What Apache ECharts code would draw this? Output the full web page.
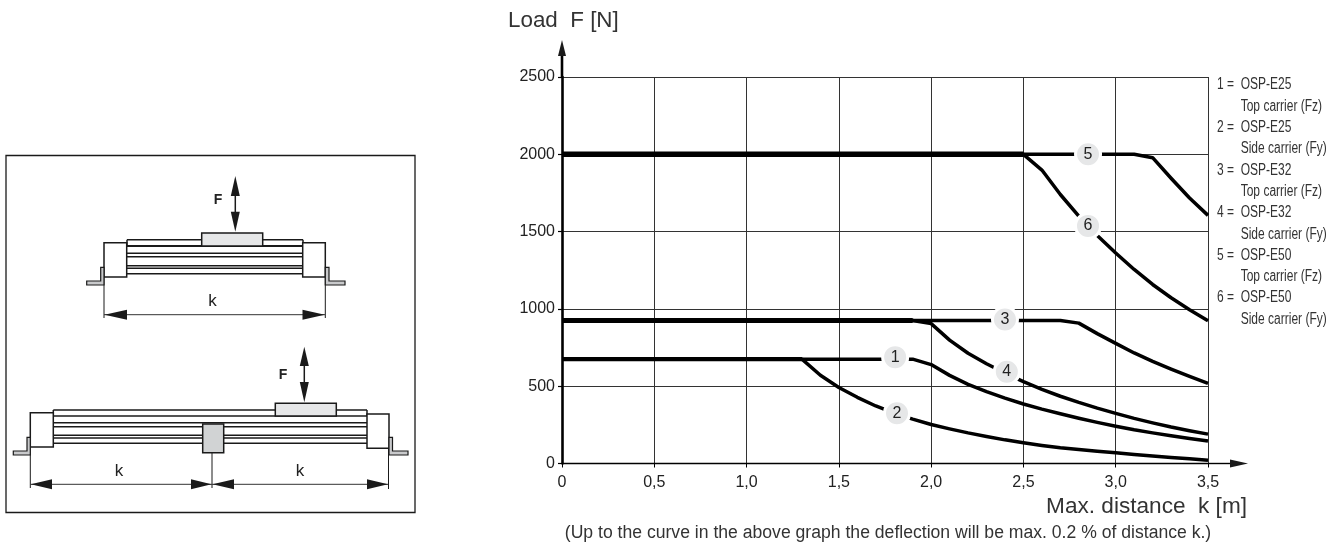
<!DOCTYPE html>
<html><head><meta charset="utf-8">
<style>html,body{margin:0;padding:0;background:#fff}#c{width:1336px;height:544px}</style>
<script src="https://cdn.jsdelivr.net/npm/echarts@6/dist/echarts.min.js"></script>
</head><body><div id="c"></div>
<script>
const curve1=[[0,675],[1.9,675],[2,640],[2.1,570],[2.2,512],[2.3,465],[2.4,423],[2.5,385],[2.6,352],[2.7,322],[2.8,293],[2.9,266],[3,241],[3.1,218],[3.2,198],[3.3,180],[3.4,162],[3.5,146]];
const curve2=[[0,675],[1.3,675],[1.4,571],[1.5,492],[1.6,428],[1.7,372],[1.8,326],[1.9,287],[2,252],[2.1,224],[2.2,198],[2.3,175],[2.4,153],[2.5,134],[2.6,117],[2.7,102],[2.8,90],[2.9,79],[3,69],[3.1,58],[3.2,48],[3.3,39],[3.4,30],[3.5,21]];
const curve3=[[0,925],[2.7,925],[2.8,908],[2.9,840],[3,777],[3.1,715],[3.2,660],[3.3,610],[3.4,563],[3.5,518]];
const curve4=[[0,925],[1.9,925],[2,905],[2.1,798],[2.2,713],[2.3,645],[2.4,585],[2.5,530],[2.6,480],[2.7,435],[2.8,395],[2.9,358],[3,324],[3.1,292],[3.2,263],[3.3,236],[3.4,212],[3.5,190]];
const curve5=[[0,2000],[3.1,2000],[3.2,1978],[3.3,1845],[3.4,1717],[3.5,1605]];
const curve6=[[0,2000],[2.5,2000],[2.6,1898],[2.7,1740],[2.8,1600],[2.9,1475],[3,1362],[3.1,1255],[3.2,1158],[3.3,1072],[3.4,995],[3.5,924]];
const curves=[curve1,curve2,curve3,curve4,curve5,curve6];
const sharedFlat=[curve2.slice(0,2),curve4.slice(0,2),curve6.slice(0,2)];
const sharedWidth=[4.2,5,5.5];
const badges=[[1.805,688,'1'],[1.815,325,'2'],[2.40,932,'3'],[2.41,594,'4'],[2.85,2000,'5'],[2.85,1537,'6']];
const legendLines=['1 =|OSP-E25','|Top carrier (Fz)','2 =|OSP-E25','|Side carrier (Fy)','3 =|OSP-E32','|Top carrier (Fz)','4 =|OSP-E32','|Side carrier (Fy)','5 =|OSP-E50','|Top carrier (Fz)','6 =|OSP-E50','|Side carrier (Fy)'];
const yTitle='Load  F [N]', xTitle='Max. distance  k [m]';
const note='(Up to the curve in the above graph the deflection will be max. 0.2 % of distance k.)';

const INK='#1a1a1a', FONT='"Liberation Sans",Arial,sans-serif';
const g=[];
const line=(x1,y1,x2,y2,w=1,c=INK)=>g.push({type:'polyline',silent:true,z:5,shape:{points:[[x1,y1],[x2,y2]]},style:{stroke:c,lineWidth:w,fill:null}});
const rect=(x1,y1,x2,y2,fill='#fff',w=1.5,z=6)=>g.push({type:'rect',silent:true,z,shape:{x:x1,y:y1,width:x2-x1,height:y2-y1},style:{fill,stroke:INK,lineWidth:w}});
const poly=(points,fill=INK,w=0)=>g.push({type:'polygon',silent:true,z:7,shape:{points},style:{fill,stroke:w?INK:null,lineWidth:w}});
const text=(x,y,t,size,o={})=>g.push({type:'text',silent:true,z:8,x,y,scaleX:o.scaleX||1,style:{text:t,font:`${o.weight||'normal'} ${size}px ${FONT}`,fill:o.fill||'#222',align:o.align||'left',verticalAlign:'middle'}});
const arrowH=(tip,base,y,h=5)=>poly([[tip,y],[base,y-h],[base,y+h]]);
const arrowV=(x,tip,base,h=4.5)=>poly([[x,tip],[x-h,base],[x+h,base]]);

// outer frame
rect(6,155.5,415,512.5,'#fff',1.3,1);
// upper drawing
[246,253.3,256.7,265.7,268.3,273.7].forEach((y,i)=>line(127,y,303,y,i===0?2:1.5));
line(127,239.7,303,239.7,1.5); line(127,239.7,127,246,1.5); line(303,239.7,303,246,1.5);
rect(104,242.7,126.7,277); rect(302.7,242.7,325.3,277);
rect(201.7,233,262.7,246,'#e6e7e8');
poly([[100.7,267.3],[104,267.3],[104,285],[86.7,285],[86.7,281],[100.7,281]],'#c8c9cb',1.2);
poly([[325.3,267.3],[329,267.3],[329,281],[345,281],[345,285],[325.3,285]],'#c8c9cb',1.2);
line(104,277,104,318); line(325.3,277,325.3,318); line(104,314.7,325,314.7,1,'#333');
arrowH(104.5,127,314.7); arrowH(324.8,302.5,314.7);
text(212.5,301,'k',17,{align:'center'});
text(218,199.7,'F',14,{align:'center',weight:'bold'});
line(235.3,190,235.3,215,1.5); arrowV(235.3,176,196); arrowV(235.3,231.7,211.7);
// lower drawing
[410,416,422.7,426.7,435.3,438,443.3].forEach(y=>line(53.3,y,367,y,1.5));
line(53.3,410,53.3,416,1.5); line(367,410,367,416,1.5);
rect(30.3,412.7,53.3,447); rect(367,414,389,448.3);
rect(275.3,403.3,336.3,416,'#e6e7e8');
rect(202.7,424,223.7,452.7,'#d1d3d4');
poly([[27,437.3],[30.3,437.3],[30.3,455],[13.3,455],[13.3,451],[27,451]],'#c8c9cb',1.2);
poly([[389,437.3],[392.5,437.3],[392.5,451],[408,451],[408,455],[389,455]],'#c8c9cb',1.2);
line(30.3,447,30.3,488); line(212,452.7,212,488); line(388.5,448.3,388.5,489);
line(30.3,484.3,388,484.3,1,'#333');
arrowH(30.8,52,484.3); arrowH(211.5,191,484.3); arrowH(212.5,234,484.3); arrowH(388,367,484.3);
text(119,471,'k',17,{align:'center'}); text(300,471,'k',17,{align:'center'});
text(283,375,'F',14,{align:'center',weight:'bold'});
line(304.3,360,304.3,388,1.5); arrowV(304.3,346.7,366); arrowV(304.3,402.3,382);
// axis extensions
line(562,77,562,50,2.6,'#000'); arrowV(562,40,56,4);
line(1208,463.5,1232,463.5,1.4,'#000'); arrowH(1248,1230,463.5,4);
// titles and key
text(508,21,yTitle,22.4,{fill:'#333'});
text(1247,507,xTitle,22.6,{fill:'#333',align:'right'});
text(888,533,note,17.6,{fill:'#333',align:'center'});
legendLines.forEach((l,i)=>{const [a,b]=l.split('|');const y=85+i*21.3;
  if(a)text(1217,y,a,16,{fill:'#333',scaleX:0.75});
  text(1240.7,y,b,16,{fill:'#333',scaleX:0.75});});

const series=[];
curves.forEach((d,i)=>series.push({name:'Curve '+(i+1),type:'line',data:d,symbol:'none',smooth:false,z:3,lineStyle:{color:'#000',width:3.5,join:'round'}}));
sharedFlat.forEach((d,i)=>series.push({name:'Shared '+(i+1),type:'line',data:d,symbol:'none',z:3,lineStyle:{color:'#000',width:sharedWidth[i],cap:'butt'}}));
series.push({type:'scatter',data:badges.map(b=>({value:[b[0],b[1]],label:{formatter:b[2]}})),symbol:'circle',symbolSize:25,z:10,
  itemStyle:{color:'#e6e7e8',borderColor:'#fff',borderWidth:3,opacity:1},
  label:{show:true,position:'inside',color:'#222',fontSize:16,fontFamily:FONT}});

const chart=echarts.init(document.getElementById('c'),null,{renderer:'canvas'});
chart.setOption({animation:false,backgroundColor:'#fff',
 grid:{left:562,right:128,top:77,bottom:80.5,containLabel:false},
 xAxis:{type:'value',min:0,max:3.5,interval:0.5,
  axisLine:{show:true,lineStyle:{color:'#000',width:1.4}},axisTick:{show:true,length:4,lineStyle:{color:'#000',width:1}},
  axisLabel:{margin:11,color:'#222',fontSize:16,fontFamily:FONT,formatter:v=>v===0?'0':v.toFixed(1).replace('.',',')},
  splitLine:{show:true,lineStyle:{color:'#333',width:1}}},
 yAxis:{type:'value',min:0,max:2500,interval:500,
  axisLine:{show:true,lineStyle:{color:'#000',width:2.6}},axisTick:{show:true,length:4,lineStyle:{color:'#000',width:1.2}},
  axisLabel:{margin:7,color:'#222',fontSize:16,fontFamily:FONT,formatter:v=>String(v)},
  splitLine:{show:true,lineStyle:{color:'#333',width:1}}},
 series,graphic:g});
</script></body></html>
